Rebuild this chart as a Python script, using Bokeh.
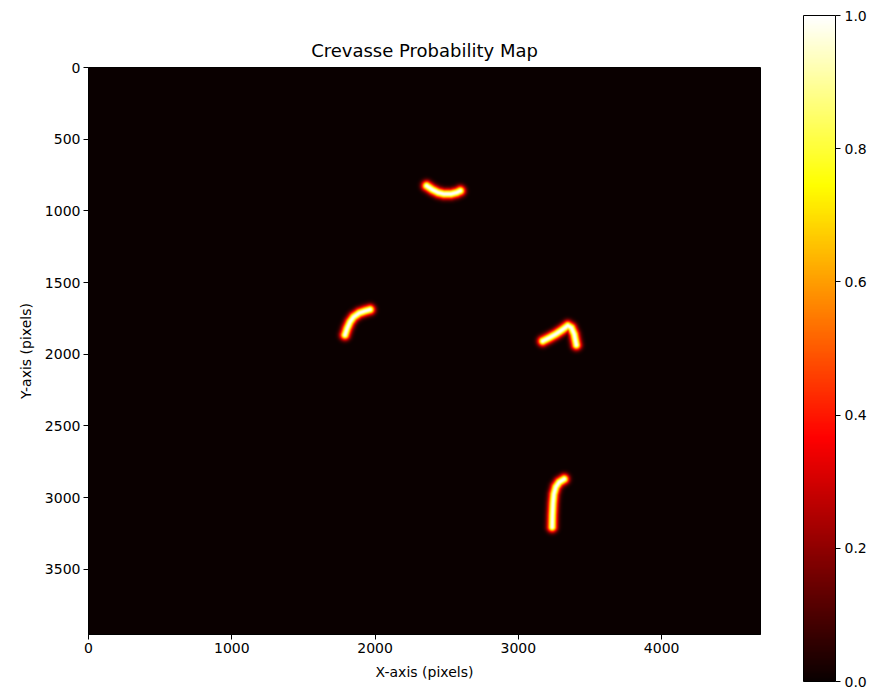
import numpy as np
from bokeh.plotting import figure
from bokeh.models import LinearColorMapper, FixedTicker, Range1d, PrintfTickFormatter, ColorBar
from bokeh.embed import file_html
from bokeh.resources import INLINE

# ---- data ----
img_width = 4690
img_height = 3954
crevasse_1_x = [2360, 2400, 2440, 2480, 2530, 2570, 2595]
crevasse_1_y = [825, 852, 872, 882, 882, 872, 860]
crevasse_2_x = [1790, 1805, 1825, 1850, 1890, 1930, 1965]
crevasse_2_y = [1865, 1820, 1775, 1740, 1712, 1698, 1688]
crevasse_3_x = [3170, 3215, 3260, 3305, 3345, 3370, 3390, 3405]
crevasse_3_y = [1908, 1885, 1860, 1830, 1800, 1815, 1860, 1935]
crevasse_4_x = [3320, 3285, 3262, 3248, 3242, 3238, 3236]
crevasse_4_y = [2870, 2892, 2925, 2975, 3040, 3120, 3205]
crevasse_width = 23        # spread of the probability ridge (image pixels)
prob_ticks = [0.0, 0.2, 0.4, 0.6, 0.8, 1.0]
x_ticks = [0, 1000, 2000, 3000, 4000]
y_ticks = [0, 500, 1000, 1500, 2000, 2500, 3000, 3500]

# ---- matplotlib "hot" palette ----
def hot(t):
    r = np.interp(t, [0, 0.365079, 1], [0.0416, 1, 1])
    g = np.interp(t, [0, 0.365079, 0.746032, 1], [0, 0, 1, 1])
    b = np.interp(t, [0, 0.746032, 1], [0, 0, 1])
    return "#%02x%02x%02x" % (int(r * 255), int(g * 255), int(b * 255))

palette = [hot(t) for t in np.linspace(0, 1, 256)]
mapper = LinearColorMapper(palette=palette, low=0, high=1)

# ---- rasterise crevasse paths into a probability map ----
nx, ny = 672, 567
cx = (np.arange(nx) + 0.5) * img_width / nx
cy = (np.arange(ny) + 0.5) * img_height / ny
GX, GY = np.meshgrid(cx, cy)
dmin = np.full(GX.shape, np.inf)
for xs, ys in [(crevasse_1_x, crevasse_1_y), (crevasse_2_x, crevasse_2_y),
               (crevasse_3_x, crevasse_3_y), (crevasse_4_x, crevasse_4_y)]:
    for i in range(len(xs) - 1):
        ax, ay, bx, by = xs[i], ys[i], xs[i + 1], ys[i + 1]
        vx, vy = bx - ax, by - ay
        L2 = vx * vx + vy * vy
        t = np.clip(((GX - ax) * vx + (GY - ay) * vy) / L2, 0, 1)
        d = np.hypot(GX - (ax + t * vx), GY - (ay + t * vy))
        dmin = np.minimum(dmin, d)
prob = np.exp(-0.5 * (dmin / crevasse_width) ** 2)

FONT = "DejaVu Sans"

p = figure(width=872, height=688, output_backend="svg", toolbar_location=None,
           x_range=Range1d(0, img_width), y_range=Range1d(img_height, 0),
           min_border_left=88, min_border_right=112, min_border_top=67, min_border_bottom=54,
           title="Crevasse Probability Map")
p.image(image=[prob], x=0, y=0, dw=img_width, dh=img_height, color_mapper=mapper)
p.grid.visible = False
p.outline_line_color = "black"
p.outline_line_width = 1
p.title.align = "center"
p.title.text_font = FONT
p.title.text_font_size = "18px"
p.title.text_font_style = "normal"
p.title.text_color = "black"
p.title.standoff = 13
p.xaxis.axis_label = "X-axis (pixels)"
p.yaxis.axis_label = "Y-axis (pixels)"
p.xaxis.ticker = FixedTicker(ticks=x_ticks)
p.yaxis.ticker = FixedTicker(ticks=y_ticks)
for ax in (p.xaxis, p.yaxis):
    ax.axis_label_text_font = FONT
    ax.axis_label_text_font_size = "14px"
    ax.axis_label_text_font_style = "normal"
    ax.axis_label_text_color = "black"
    ax.major_label_text_font = FONT
    ax.major_label_text_font_size = "14px"
    ax.major_label_text_color = "black"
    ax.major_tick_out = 5
    ax.major_tick_in = 0
    ax.minor_tick_out = 0
    ax.minor_tick_in = 0
    ax.major_label_standoff = 3
    ax.axis_label_standoff = 8
    ax.axis_line_color = "black"
p.yaxis.major_label_orientation = "horizontal"

# ---- colour bar ----
cbar = ColorBar(color_mapper=mapper, ticker=FixedTicker(ticks=prob_ticks),
                formatter=PrintfTickFormatter(format="%.1f"),
                width=32, height=666, location=(43, -47), padding=0, margin=0,
                label_standoff=4, major_tick_out=5, major_tick_in=0,
                major_tick_line_color="black", minor_tick_line_color=None,
                bar_line_color="black", border_line_color=None,
                background_fill_color=None,
                major_label_text_font=FONT, major_label_text_font_size="14px",
                major_label_text_color="black")
p.add_layout(cbar, "right")

open("out.html", "w").write(file_html(p, INLINE))
